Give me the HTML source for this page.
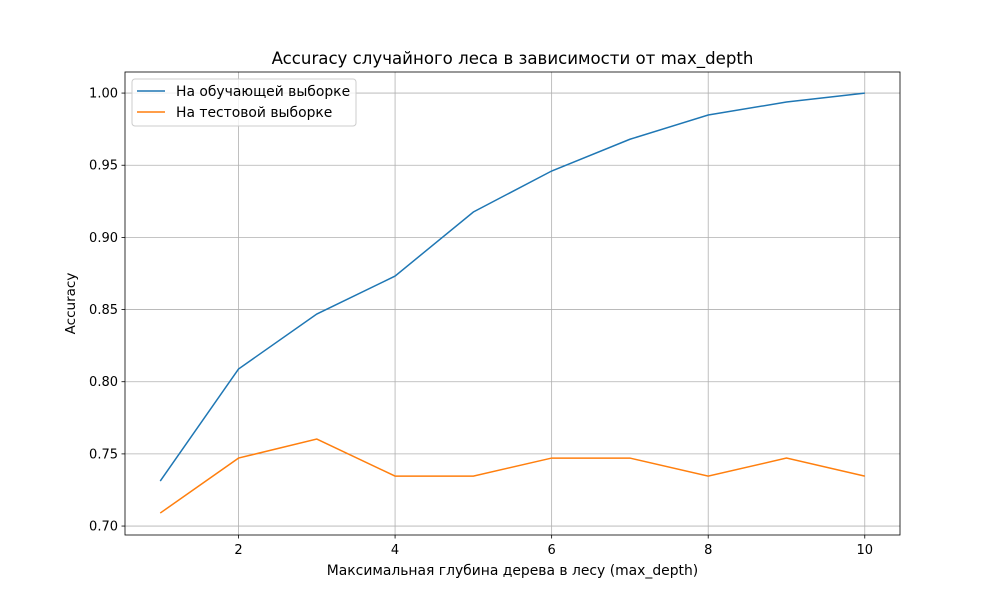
<!DOCTYPE html>
<html><head><meta charset="utf-8"><style>
body{margin:0;background:#fff;font-family:"Liberation Sans","DejaVu Sans",sans-serif;}
text{font-family:"DejaVu Sans","Liberation Sans",sans-serif;}
</style></head><body>
<svg id="chart" width="1000" height="600" xmlns="http://www.w3.org/2000/svg">
<rect width="1000" height="600" fill="#fff"/>
<g id="grid"></g>
<g id="lines"></g>
<rect x="125" y="72" width="775" height="463" fill="none" stroke="#000" stroke-width="0.8"/>
<g id="ticks" font-size="13" fill="#000"></g>
<text x="512.5" y="64" text-anchor="middle" font-size="16.6">Accuracy случайного леса в зависимости от max_depth</text>
<text x="512.5" y="575" text-anchor="middle" font-size="13.9">Максимальная глубина дерева в лесу (max_depth)</text>
<text transform="translate(75,303.5) rotate(-90)" text-anchor="middle" font-size="13.5">Accuracy</text>
<g>
<rect x="132" y="79" width="224" height="47" rx="3" fill="#fff" fill-opacity="0.8" stroke="#ccc"/>
<line x1="137" y1="91" x2="165" y2="91" stroke="#1f77b4" stroke-width="1.5"/>
<text x="176" y="96" font-size="13.9">На обучающей выборке</text>
<line x1="137" y1="112" x2="165" y2="112" stroke="#ff7f0e" stroke-width="1.5"/>
<text x="176" y="117" font-size="13.9">На тестовой выборке</text>
</g>
</svg>
<script>
const depths=[1,2,3,4,5,6,7,8,9,10];
const trainAcc=[0.7312,0.8088,0.8469,0.8732,0.9176,0.946,0.968,0.9848,0.9938,1.0];
const testAcc=[0.709,0.7471,0.7603,0.7346,0.7346,0.7471,0.7471,0.7346,0.7471,0.7346];
const xTicks=[2,4,6,8,10];
const yTicks=[0.70,0.75,0.80,0.85,0.90,0.95,1.00];
const X0=125,X1=900,Y0=535,Y1=72,xMin=0.55,xMax=10.45,yMin=0.6938,yMax=1.0146;
const sx=v=>X0+(v-xMin)/(xMax-xMin)*(X1-X0);
const sy=v=>Y0-(v-yMin)/(yMax-yMin)*(Y0-Y1);
const NS="http://www.w3.org/2000/svg";
const grid=document.getElementById('grid'),ticks=document.getElementById('ticks'),lines=document.getElementById('lines');
function mk(t,a,p){const e=document.createElementNS(NS,t);for(const k in a)e.setAttribute(k,a[k]);p.appendChild(e);return e;}
xTicks.forEach(v=>{const x=sx(v);
const g=mk('line',{x1:x,x2:x,y1:Y1,y2:Y0,stroke:'#b0b0b0','stroke-width':0.8},grid);


mk('line',{x1:x,x2:x,y1:Y0,y2:Y0+3.5,stroke:'#000','stroke-width':0.8},ticks);
const t=mk('text',{x:x,y:Y0+19,'text-anchor':'middle'},ticks);t.textContent=v;

});
yTicks.forEach(v=>{const y=sy(v);
const g=mk('line',{x1:X0,x2:X1,y1:y,y2:y,stroke:'#b0b0b0','stroke-width':0.8},grid);


mk('line',{x1:X0-3.5,x2:X0,y1:y,y2:y,stroke:'#000','stroke-width':0.8},ticks);
const t=mk('text',{x:X0-7,y:y+4.5,'text-anchor':'end'},ticks);t.textContent=v.toFixed(2);

});
const l1=mk('polyline',{points:depths.map((d,i)=>sx(d)+','+sy(trainAcc[i])).join(' '),fill:'none',stroke:'#1f77b4','stroke-width':1.5},lines);


const l2=mk('polyline',{points:depths.map((d,i)=>sx(d)+','+sy(testAcc[i])).join(' '),fill:'none',stroke:'#ff7f0e','stroke-width':1.5},lines);


</script>
</body></html>
